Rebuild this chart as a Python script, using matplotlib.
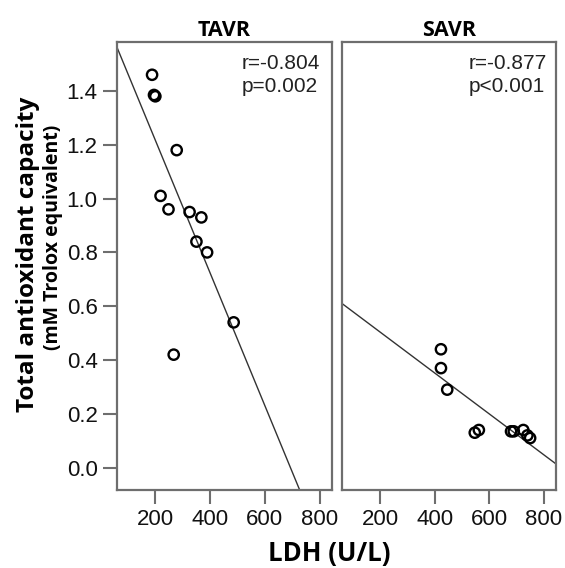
import numpy as np
import matplotlib
matplotlib.use('Agg')
import matplotlib.pyplot as plt

# TAVR group
tavr_ldh = [188, 195, 200, 278, 219, 248, 325, 368, 350, 389, 486, 267]
tavr_tac = [1.46, 1.385, 1.38, 1.18, 1.01, 0.96, 0.95, 0.93, 0.84, 0.80, 0.54, 0.42]
tavr_stats = "r=-0.804\np=0.002"

# SAVR group
savr_ldh = [423, 423, 446, 547, 562, 680, 690, 725, 740, 750]
savr_tac = [0.44, 0.37, 0.29, 0.13, 0.14, 0.135, 0.135, 0.14, 0.12, 0.11]
savr_stats = "r=-0.877\np<0.001"

xticks = [200, 400, 600, 800]
yticks = [0.0, 0.2, 0.4, 0.6, 0.8, 1.0, 1.2, 1.4]
XLIM = (60, 845)
YLIM = (-0.083, 1.58)

SPINE = '#6e6e6e'
TICKFONT = 'Liberation Sans'
BOLDFONT = 'Open Sans'

fig = plt.figure(figsize=(5.65, 5.68), dpi=100)
ax_t = fig.add_axes([0.2071, 0.1373, 0.3805, 0.7879])
ax_s = fig.add_axes([0.6053, 0.1373, 0.3788, 0.7879])

panels = [(ax_t, tavr_ldh, tavr_tac, 'TAVR', tavr_stats, 0.581),
          (ax_s, savr_ldh, savr_tac, 'SAVR', savr_stats, 0.593)]

for ax, x, y, title, stats, tx in panels:
    x = np.array(x, dtype=float)
    y = np.array(y, dtype=float)
    slope, icpt = np.polyfit(x, y, 1)
    xs = np.array(XLIM)
    ax.plot(xs, slope * xs + icpt, color='#333333', linewidth=1.0, zorder=2)
    ax.scatter(x, y, s=55, facecolors='none', edgecolors='black', linewidths=1.7, zorder=3)
    ax.set_xlim(*XLIM)
    ax.set_ylim(*YLIM)
    ax.set_xticks(xticks)
    ax.set_xticklabels([str(v) for v in xticks], fontfamily=TICKFONT, fontsize=16, color='#111111')
    ax.set_yticks(yticks)
    for s in ax.spines.values():
        s.set_color(SPINE)
        s.set_linewidth(1.6)
    ax.tick_params(direction='out', length=10, width=1.5, color=SPINE, pad=4)
    ax.set_title(title, fontfamily=BOLDFONT, fontweight='bold', fontsize=15.5, pad=5)
    ax.text(tx, 0.927, stats, transform=ax.transAxes, ha='left', va='center',
            fontfamily=TICKFONT, fontsize=15, color='#222222', linespacing=1.3)

ax_t.set_yticklabels([f'{v:.1f}' for v in yticks], fontfamily=TICKFONT, fontsize=16, color='#111111')
ax_s.tick_params(axis='y', left=False, labelleft=False)

fig.text(0.05, 1 - 254 / 568, 'Total antioxidant capacity', rotation=90, ha='center', va='center',
         fontfamily=BOLDFONT, fontweight='bold', fontsize=17.5)
fig.text(0.093, 1 - 237 / 568, '(mM Trolox equivalent)', rotation=90, ha='center', va='center',
         fontfamily=BOLDFONT, fontweight='bold', fontsize=14)
fig.text(329 / 565, 1 - 553 / 568, 'LDH (U/L)', ha='center', va='center',
         fontfamily=BOLDFONT, fontweight='bold', fontsize=18.5)

fig.savefig('out.png', dpi=100)
